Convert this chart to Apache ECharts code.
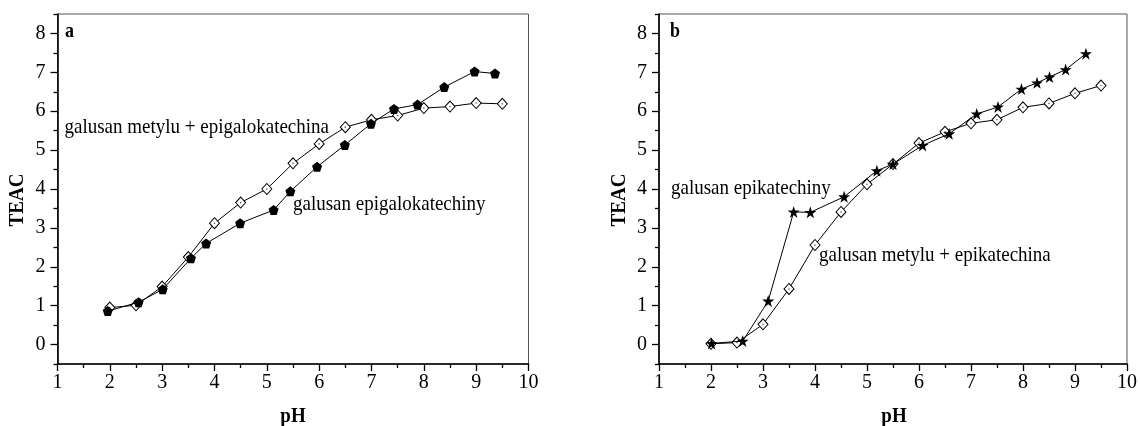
<!DOCTYPE html>
<html><head><meta charset="utf-8">
<script src="https://cdn.jsdelivr.net/npm/echarts@6/dist/echarts.min.js"></script>
<style>html,body{margin:0;padding:0;background:#fff}#c{width:1140px;height:426px}</style>
</head><body><div id="c"></div>
<script>
// Panel a
const aMixPH   = [2,2.5,3,3.5,4,4.5,5,5.5,6,6.5,7,7.5,8,8.5,9,9.5];
const aMixTEAC = [0.95,1.01,1.49,2.25,3.12,3.65,4.00,4.66,5.16,5.59,5.78,5.89,6.08,6.12,6.21,6.19];
const aEgcgPH   = [1.96,2.55,3.01,3.55,3.84,4.49,5.13,5.45,5.96,6.49,6.99,7.43,7.88,8.39,8.97,9.36];
const aEgcgTEAC = [0.86,1.09,1.42,2.22,2.60,3.12,3.46,3.94,4.57,5.13,5.68,6.06,6.17,6.62,7.02,6.97];
// Panel b
const bMixPH   = [2,2.5,3,3.5,4,4.5,5,5.5,6,6.5,7,7.5,8,8.5,9,9.5];
const bMixTEAC = [0.02,0.05,0.52,1.43,2.56,3.41,4.12,4.64,5.18,5.47,5.69,5.78,6.10,6.20,6.46,6.66];
const bEcgPH   = [2.01,2.61,3.10,3.59,3.91,4.56,5.19,5.50,6.07,6.58,7.11,7.52,7.97,8.27,8.51,8.82,9.21];
const bEcgTEAC = [0.03,0.09,1.12,3.41,3.40,3.80,4.47,4.64,5.12,5.42,5.93,6.11,6.57,6.73,6.88,7.07,7.48];
// Labels / ticks
const yMajorTicks = [0,1,2,3,4,5,6,7,8];
const yMinorTicks = [-0.5,0.5,1.5,2.5,3.5,4.5,5.5,6.5,7.5,8.5];
const labelsA = ['galusan metylu + epigalokatechina','galusan epigalokatechiny'];
const labelsB = ['galusan epikatechiny','galusan metylu + epikatechina'];
const xTitle = 'pH', yTitle = 'TEAC';

const FONT = '"Liberation Serif","Times New Roman",serif';
const pentagon = 'path://M50,0 L97.6,34.5 L79.4,90.5 L20.6,90.5 L2.4,34.5 Z';
const star = 'path://M50,0 L61.8,35.1 L98.9,35.1 L68.9,56.7 L80.3,91.9 L50,70.2 L19.7,91.9 L31.1,56.7 L1.1,35.1 L38.2,35.1 Z';
const zip = (xs, ys) => xs.map((x, i) => [x, ys[i]]);

function xAx(g){
  return {type:'value', gridIndex:g, min:1, max:10, interval:1,
    axisLine:{onZero:false, lineStyle:{color:'#000', width:1.6}},
    axisTick:{show:true, inside:false, length:7, lineStyle:{color:'#000', width:1.3}},
    minorTick:{show:true, splitNumber:2, length:4, lineStyle:{color:'#000', width:1.3}},
    axisLabel:{fontFamily:FONT, fontSize:20, color:'#000', margin:9},
    splitLine:{show:false}, minorSplitLine:{show:false}};
}
function yAx(g){
  return {type:'value', gridIndex:g, min:-0.5, max:8.5,
    axisLine:{onZero:false, lineStyle:{color:'#000', width:1.6}},
    axisTick:{show:true, length:7, customValues:yMajorTicks, lineStyle:{color:'#000', width:1.3}},
    axisLabel:{fontFamily:FONT, fontSize:20, color:'#000', margin:12, customValues:yMajorTicks},
    splitLine:{show:false}};
}
function yMinor(g){
  return {type:'value', gridIndex:g, min:-0.5, max:8.5, position:'left',
    axisLine:{show:false},
    axisTick:{show:true, length:4, customValues:yMinorTicks, lineStyle:{color:'#000', width:1.3}},
    axisLabel:{show:false}, splitLine:{show:false}};
}
function ser(name, data, xi, yi, symbol, size, filled){
  return {name, type:'line', xAxisIndex:xi, yAxisIndex:yi, data,
    symbol, symbolSize:size, showAllSymbol:true,
    lineStyle:{color:'#000', width:1},
    itemStyle:{color: filled ? '#000' : '#fff', borderColor:'#000', borderWidth: filled?0:1},
    emphasis:{disabled:true}, animation:false, z: filled?4:2};
}
function dots(data, xi, yi){
  return {type:'scatter', xAxisIndex:xi, yAxisIndex:yi, data, symbol:'circle', symbolSize:1.6,
    itemStyle:{color:'#333'}, emphasis:{disabled:true}, silent:true, z:3};
}
function txt(x, y, s){
  return {type:'text', x:x, y:y, scaleY:1.15,
    style:{text:s, font:'19px ' + FONT, fill:'#000', verticalAlign:'middle'}};
}
function vTitle(x, y){
  return {type:'text', x:x, y:y, rotation:Math.PI/2, scaleY:1.1,
    style:{text:yTitle, font:'bold 19px ' + FONT, fill:'#000', align:'center', verticalAlign:'middle'}};
}
function hTitle(x, y){
  return {type:'text', x:x, y:y, scaleY:1.1,
    style:{text:xTitle, font:'bold 19px ' + FONT, fill:'#000', align:'center', verticalAlign:'middle'}};
}

const chart = echarts.init(document.getElementById('c'), null, {renderer:'canvas'});
chart.setOption({
  animation:false,
  grid:[
    {left:57.5, top:14, width:471, height:350, show:true, borderColor:'#555', borderWidth:1},
    {left:659, top:14, width:470, height:350, show:true, borderColor:'#555', borderWidth:1}
  ],
  xAxis:[xAx(0), xAx(1)],
  yAxis:[yAx(0), yMinor(0), yAx(1), yMinor(1)],
  series:[
    ser(labelsA[0], zip(aMixPH, aMixTEAC), 0, 0, 'diamond', [10,11], false),
    dots(zip(aMixPH, aMixTEAC), 0, 0),
    ser(labelsA[1], zip(aEgcgPH, aEgcgTEAC), 0, 0, pentagon, 10, true),
    ser(labelsB[1], zip(bMixPH, bMixTEAC), 1, 2, 'diamond', [10,11], false),
    dots(zip(bMixPH, bMixTEAC), 1, 2),
    ser(labelsB[0], zip(bEcgPH, bEcgTEAC), 1, 2, star, 12, true)
  ],
  graphic:[
    {type:'text', x:65, y:32, scaleY:1.15, style:{text:'a', font:'bold 18px ' + FONT, fill:'#000', verticalAlign:'middle'}},
    {type:'text', x:670, y:32, scaleY:1.15, style:{text:'b', font:'bold 18px ' + FONT, fill:'#000', verticalAlign:'middle'}},
    txt(64.5, 127, labelsA[0]),
    txt(293, 204, labelsA[1]),
    txt(671, 188, labelsB[0]),
    txt(819, 255, labelsB[1]),
    vTitle(18, 200),
    vTitle(620, 200),
    hTitle(293, 417),
    hTitle(894, 417)
  ]
});
</script></body></html>
